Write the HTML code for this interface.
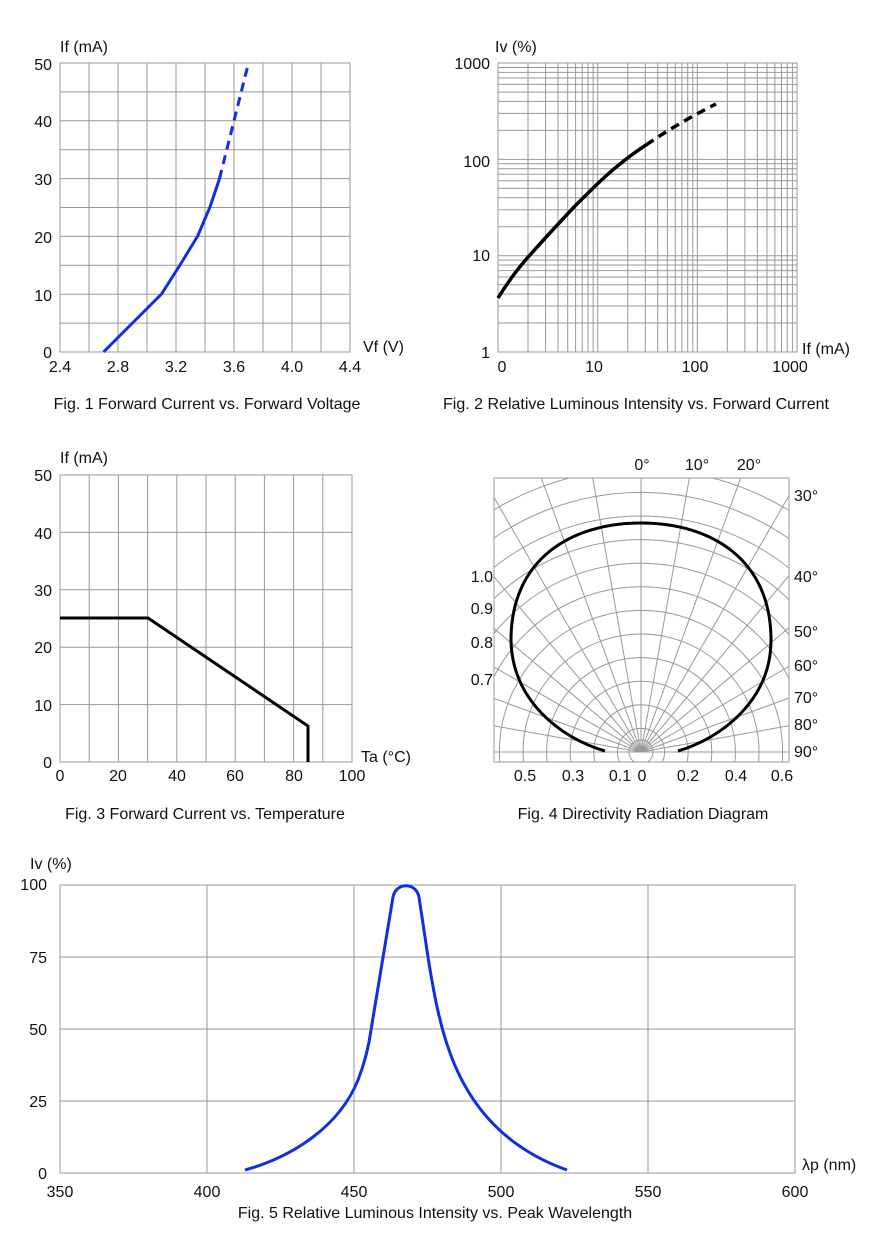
<!DOCTYPE html><html><head><style>body{margin:0;background:#fff}svg{display:block}text{font-family:"Liberation Sans",Arial,sans-serif;font-size:16px;fill:#111}</style></head><body>
<svg width="880" height="1245" viewBox="0 0 880 1245" xmlns="http://www.w3.org/2000/svg">
<defs><clipPath id="c4"><rect x="494" y="478" width="295" height="284"/></clipPath></defs>
<!-- Fig1 -->
<g stroke="#999" stroke-width="1" fill="none">
<rect x="60" y="63" width="290" height="289"/>
<path d="M89,63V352M118,63V352M147,63V352M176,63V352M205,63V352M234,63V352M263,63V352M292,63V352M321,63V352"/>
<path d="M60,91.9H350M60,120.8H350M60,149.7H350M60,178.6H350M60,207.5H350M60,236.4H350M60,265.3H350M60,294.2H350M60,323.1H350"/>
</g>
<path d="M103.5,352L132.5,323L161.5,294L180,265L197.7,236L210,207L219.5,178.6" stroke="#1030e0" stroke-width="3" fill="none"/>
<path d="M219.5,178.6L234,120.8L248.5,63" stroke="#1030e0" stroke-width="3" fill="none" stroke-dasharray="9,6"/>
<text x="60" y="52">If (mA)</text>
<g text-anchor="end"><text x="52" y="70">50</text><text x="52" y="127">40</text><text x="52" y="185">30</text><text x="52" y="243">20</text><text x="52" y="301">10</text><text x="52" y="358">0</text></g>
<g text-anchor="middle"><text x="60" y="372">2.4</text><text x="118" y="372">2.8</text><text x="176" y="372">3.2</text><text x="234" y="372">3.6</text><text x="292" y="372">4.0</text><text x="350" y="372">4.4</text></g>
<text x="363" y="352">Vf (V)</text>
<text x="207" y="409" text-anchor="middle">Fig. 1 Forward Current vs. Forward Voltage</text>
<!-- Fig2 -->
<g stroke="#999" stroke-width="1" fill="none">
<rect x="498" y="63" width="299" height="289"/>
<path d="M528,63V352M545.6,63V352M558,63V352M567.7,63V352M575.6,63V352M582.2,63V352M588,63V352M593.1,63V352M597.7,63V352M627.7,63V352M645.3,63V352M657.7,63V352M667.4,63V352M675.3,63V352M681.9,63V352M687.7,63V352M692.8,63V352M697.3,63V352M727.3,63V352M744.9,63V352M757.3,63V352M767,63V352M774.9,63V352M781.5,63V352M787.3,63V352M792.4,63V352"/>
<path d="M498,323H797M498,306H797M498,294H797M498,284.7H797M498,277H797M498,270.6H797M498,265H797M498,260.1H797M498,255.7H797M498,226.7H797M498,209.7H797M498,197.7H797M498,188.4H797M498,180.7H797M498,174.3H797M498,168.7H797M498,163.8H797M498,159.4H797M498,130.4H797M498,113.4H797M498,101.4H797M498,92.1H797M498,84.4H797M498,78H797M498,72.4H797M498,67.5H797"/>
</g>
<path d="M498,298C508,282 518,268 530,255C545,238 560,222 575,206C592,189 606,175 620,164C630,156 638,150 646,145" stroke="#000" stroke-width="3.5" fill="none"/>
<path d="M646,145C668,130 690,117 716,104" stroke="#000" stroke-width="3.5" fill="none" stroke-dasharray="9,6"/>
<text x="495" y="52">Iv (%)</text>
<g text-anchor="end"><text x="490" y="69">1000</text><text x="490" y="167">100</text><text x="490" y="261">10</text><text x="490" y="358">1</text></g>
<g text-anchor="middle"><text x="502" y="372">0</text><text x="594" y="372">10</text><text x="695" y="372">100</text><text x="790" y="372">1000</text></g>
<text x="802" y="354">If (mA)</text>
<text x="636" y="409" text-anchor="middle">Fig. 2 Relative Luminous Intensity vs. Forward Current</text>
<!-- Fig3 -->
<g stroke="#999" stroke-width="1" fill="none">
<rect x="60" y="475" width="292" height="287"/>
<path d="M89.2,475V762M118.4,475V762M147.6,475V762M176.8,475V762M206,475V762M235.2,475V762M264.4,475V762M293.6,475V762M322.8,475V762"/>
<path d="M60,532.4H352M60,589.8H352M60,647.2H352M60,704.6H352"/>
</g>
<path d="M60,618L148,618L308,726L308,762" stroke="#000" stroke-width="3" fill="none"/>
<text x="60" y="463">If (mA)</text>
<g text-anchor="end"><text x="52" y="481">50</text><text x="52" y="539">40</text><text x="52" y="596">30</text><text x="52" y="653">20</text><text x="52" y="711">10</text><text x="52" y="768">0</text></g>
<g text-anchor="middle"><text x="60" y="781">0</text><text x="118" y="781">20</text><text x="177" y="781">40</text><text x="235" y="781">60</text><text x="294" y="781">80</text><text x="352" y="781">100</text></g>
<text x="361" y="762">Ta (°C)</text>
<text x="205" y="819" text-anchor="middle">Fig. 3 Forward Current vs. Temperature</text>
<!-- Fig4 -->
<g clip-path="url(#c4)" stroke="#999" stroke-width="1" fill="none">
<circle cx="641" cy="752" r="12"/>
<circle cx="641" cy="752" r="23.6"/><circle cx="641" cy="752" r="47.2"/><circle cx="641" cy="752" r="70.8"/><circle cx="641" cy="752" r="94.4"/><circle cx="641" cy="752" r="118"/><circle cx="641" cy="752" r="141.6"/><circle cx="641" cy="752" r="165.2"/><circle cx="641" cy="752" r="188.8"/><circle cx="641" cy="752" r="212.4"/><circle cx="641" cy="752" r="236"/><circle cx="641" cy="752" r="259.6"/><circle cx="641" cy="752" r="283.2"/>
<path d="M641,752V352M641,752L710.5,358M641,752L777.8,376M641,752L841,405.6M641,752L898,445.6M641,752L947,495M641,752L987,552M641,752L1017,615M641,752L1035,682M641,752L1041,752M641,752L571.5,358M641,752L504.2,376M641,752L441,405.6M641,752L384,445.6M641,752L335,495M641,752L295,552M641,752L265,615M641,752L247,682M641,752L241,752"/>
<path d="M494,762H789"/>
</g>
<rect x="494" y="478" width="295" height="284" stroke="#999" fill="none"/>
<path d="M605,751C560,738 512,700 511,640C511,560 570,523 641,523C712,523 771,560 771,640C771,700 722,738 678,751" stroke="#000" stroke-width="3" fill="none"/>
<g text-anchor="middle"><text x="642" y="470">0°</text><text x="697" y="470">10°</text><text x="749" y="470">20°</text></g>
<g><text x="794" y="501">30°</text><text x="794" y="582">40°</text><text x="794" y="637">50°</text><text x="794" y="671">60°</text><text x="794" y="703">70°</text><text x="794" y="730">80°</text><text x="794" y="757">90°</text></g>
<g text-anchor="end"><text x="493" y="582">1.0</text><text x="493" y="614">0.9</text><text x="493" y="648">0.8</text><text x="493" y="685">0.7</text></g>
<g text-anchor="middle"><text x="525" y="781">0.5</text><text x="573" y="781">0.3</text><text x="620" y="781">0.1</text><text x="642" y="781">0</text><text x="688" y="781">0.2</text><text x="736" y="781">0.4</text><text x="782" y="781">0.6</text></g>
<text x="643" y="819" text-anchor="middle">Fig. 4 Directivity Radiation Diagram</text>
<!-- Fig5 -->
<g stroke="#999" stroke-width="1" fill="none">
<rect x="60" y="885" width="735" height="288"/>
<path d="M207,885V1173M354,885V1173M501,885V1173M648,885V1173"/>
<path d="M60,957H795M60,1029H795M60,1101H795"/>
</g>
<path d="M245,1170C295,1156 340,1125 358,1080C365,1062 369,1045 371,1030L393,897C396,882 416,882 419,897L428,957C434,995 440,1025 449,1050C468,1105 505,1148 567,1170" stroke="#1030e0" stroke-width="3" fill="none"/>
<text x="30" y="869">Iv (%)</text>
<g text-anchor="end"><text x="47" y="890">100</text><text x="47" y="963">75</text><text x="47" y="1035">50</text><text x="47" y="1107">25</text><text x="47" y="1179">0</text></g>
<g text-anchor="middle"><text x="60" y="1197">350</text><text x="207" y="1197">400</text><text x="354" y="1197">450</text><text x="501" y="1197">500</text><text x="648" y="1197">550</text><text x="795" y="1197">600</text></g>
<text x="802" y="1170">λp (nm)</text>
<text x="435" y="1218" text-anchor="middle">Fig. 5 Relative Luminous Intensity vs. Peak Wavelength</text>
</svg></body></html>
